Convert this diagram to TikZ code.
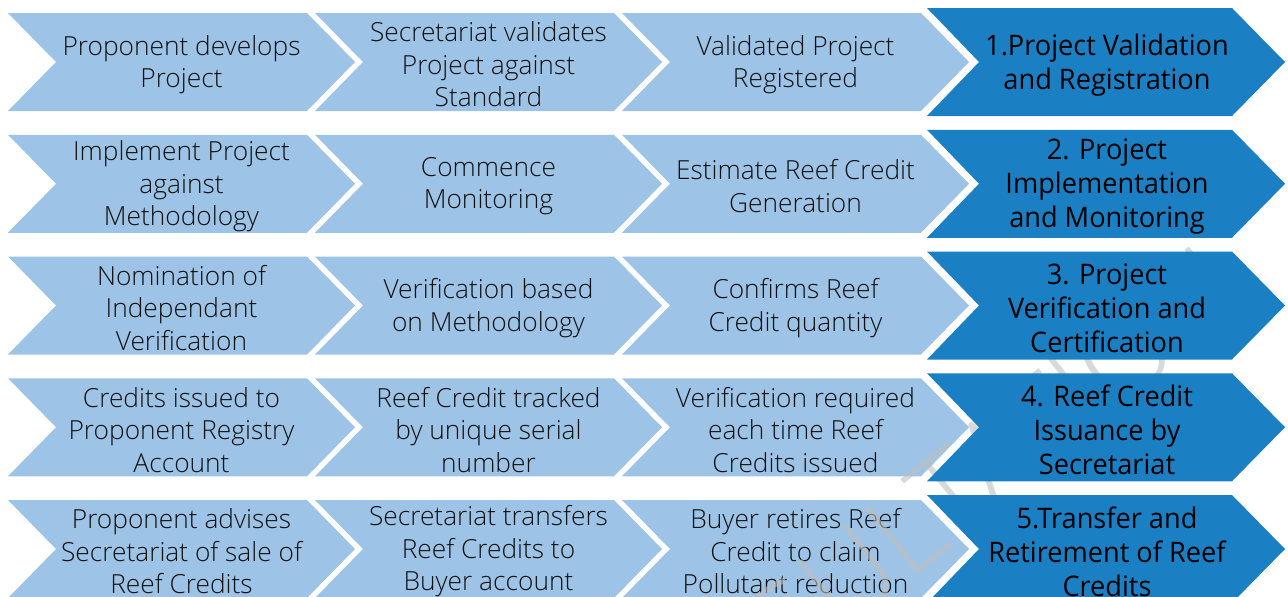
\documentclass[tikz,border=0pt]{standalone}
\usepackage{fontspec}
\setmainfont{Open Sans}
\newfontfamily\lightfont{Open Sans Light}
\newfontfamily\darkfont[FakeStretch=0.96]{Open Sans}
\definecolor{lightchev}{HTML}{9DC3E6}
\definecolor{darkchev}{HTML}{1B7FC4}
\definecolor{lighttext}{HTML}{111111}
\tikzset{
  lightbox/.style={fill=lightchev},
  darkbox/.style={fill=darkchev},
  lighttxt/.style={align=center, text=lighttext, inner sep=0pt,
    font=\lightfont\fontsize{26.3}{32.5}\selectfont},
  darktxt/.style={align=center, text=black, inner sep=0pt,
    font=\darkfont\fontsize{28.3}{34}\selectfont},
  watermark/.style={text=black!25, opacity=0.6, inner sep=0pt,
    font=\lightfont\fontsize{118}{118}\selectfont, rotate=39}
}
% light chevron: name, left x, top y, text
\newcommand{\lchev}[4]{%
  \fill[lightbox] (#2,#3) -- ++(299,0) -- ++(48,49) -- ++(-48,49)
    -- ++(-299,0) -- ++(48,-49) -- cycle;
  \node[lighttxt] (#1) at ({#2+173.5},{#3+51.5}) {#4};
}
% dark chevron: name, light-row top y, text
\newcommand{\dchev}[3]{%
  \fill[darkbox] (927,{#2-5}) -- ++(305,0) -- ++(53,54) -- ++(-53,54)
    -- ++(-305,0) -- ++(52,-54) -- cycle;
  \node[darktxt] (#1) at (1107,{#2+52}) {#3};
}
\begin{document}
\begin{tikzpicture}[x=1pt,y=-1pt]
\useasboundingbox (0,0) rectangle (1288,597);
\begin{scope}
\clip (0,0) rectangle (1288,597);
% row 1
\lchev{a1}{8}{13}{Proponent develops\\Project}
\lchev{a2}{315}{13}{Secretariat validates\\Project against\\Standard}
\lchev{a3}{622}{13}{Validated Project\\Registered}
% row 2
\lchev{b1}{8}{134.75}{Implement Project\\against\\Methodology}
\lchev{b2}{315}{134.75}{Commence\\Monitoring}
\lchev{b3}{622}{134.75}{Estimate Reef Credit\\Generation}
% row 3
\lchev{c1}{8}{256.5}{Nomination of\\Independant\\Verification}
\lchev{c2}{315}{256.5}{Verification based\\on Methodology}
\lchev{c3}{622}{256.5}{Confirms Reef\\Credit quantity}
% row 4
\lchev{d1}{8}{378.25}{Credits issued to\\Proponent Registry\\Account}
\lchev{d2}{315}{378.25}{Reef Credit tracked\\by unique serial\\number}
\lchev{d3}{622}{378.25}{Verification required\\each time Reef\\Credits issued}
% row 5
\lchev{e1}{8}{500}{Proponent advises\\Secretariat of sale of\\Reef Credits}
\lchev{e2}{315}{500}{Secretariat transfers\\Reef Credits to\\Buyer account}
\lchev{e3}{622}{500}{Buyer retires Reef\\Credit to claim\\Pollutant reduction}
% watermark
\node[watermark] (wm) at (900,535) {CONSULTATION};
% dark chevrons
\dchev{s1}{13}{1.Project Validation\\and Registration}
\dchev{s2}{134.75}{2. Project\\Implementation\\and Monitoring}
\dchev{s3}{256.5}{3. Project\\Verification and\\Certification}
\dchev{s4}{378.25}{4. Reef Credit\\Issuance by\\Secretariat}
\dchev{s5}{500}{5.Transfer and\\Retirement of Reef\\Credits}
\end{scope}
\end{tikzpicture}
\end{document}
